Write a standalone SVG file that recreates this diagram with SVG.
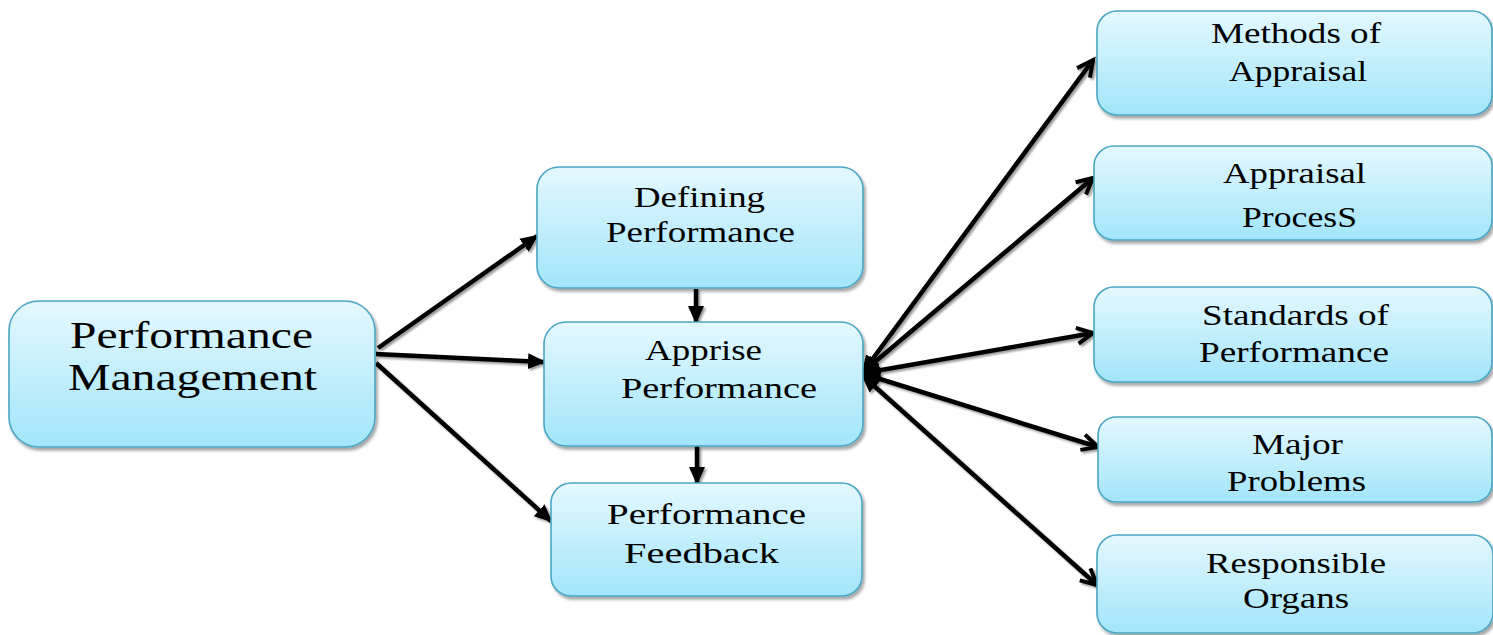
<svg xmlns="http://www.w3.org/2000/svg" width="1493" height="635" viewBox="0 0 1493 635">
<style>
.box{fill:url(#g);stroke:#4aa6c4;stroke-width:1.6;filter:url(#bs)}
.t{font-family:"Liberation Serif","Times New Roman",serif;fill:#000;font-size:29px}
.big{font-size:38px}
.c{fill:none;stroke:#000;stroke-width:4.5;stroke-linecap:butt}
</style>
<defs>
<linearGradient id="g" x1="0" y1="0" x2="0" y2="1">
<stop offset="0" stop-color="#e4f8fe"/>
<stop offset="1" stop-color="#a2e5fa"/>
</linearGradient>
<filter id="bs" x="-10%" y="-10%" width="125%" height="130%">
<feDropShadow dx="2" dy="3" stdDeviation="1.5" flood-color="#000" flood-opacity="0.35"/>
</filter>
<filter id="ls" x="-10%" y="-10%" width="120%" height="120%">
<feDropShadow dx="2" dy="2" stdDeviation="1" flood-color="#000" flood-opacity="0.4"/>
</filter>
<marker id="fa" markerUnits="userSpaceOnUse" markerWidth="20" markerHeight="18" refX="16" refY="8" orient="auto-start-reverse" viewBox="0 0 20 16">
<path d="M0,0 L18,8 L0,16 z" fill="#000"/>
</marker>
<marker id="oa" markerUnits="userSpaceOnUse" markerWidth="24" markerHeight="24" refX="18" refY="10" orient="auto" viewBox="0 0 24 20">
<path d="M2,2 L18,10 L2,18" fill="none" stroke="#000" stroke-width="4" stroke-linejoin="miter"/>
</marker>
</defs>
<g id="connectors" filter="url(#ls)">
<line class="c" x1="378" y1="348" x2="537" y2="236" marker-end="url(#fa)"/>
<line class="c" x1="376" y1="354" x2="544" y2="362" marker-end="url(#fa)"/>
<line class="c" x1="376" y1="363" x2="551" y2="521" marker-end="url(#fa)"/>
<line class="c" x1="696" y1="289" x2="696" y2="322" marker-end="url(#fa)"/>
<line class="c" x1="697" y1="446" x2="697" y2="483" marker-end="url(#fa)"/>
<line class="c" x1="863" y1="372" x2="1093" y2="60" marker-start="url(#fa)" marker-end="url(#oa)"/>
<line class="c" x1="863" y1="372" x2="1093" y2="178" marker-start="url(#fa)" marker-end="url(#oa)"/>
<line class="c" x1="864" y1="373" x2="1093" y2="333" marker-start="url(#fa)" marker-end="url(#oa)"/>
<line class="c" x1="864" y1="374" x2="1098" y2="447" marker-start="url(#fa)" marker-end="url(#oa)"/>
<line class="c" x1="863" y1="376" x2="1097" y2="585" marker-start="url(#fa)" marker-end="url(#oa)"/>
</g>
<g id="pm">
<rect class="box" x="9" y="301" width="366" height="146" rx="30"/>
<text class="t big" x="70" y="348" textLength="243" lengthAdjust="spacingAndGlyphs">Performance</text>
<text class="t big" x="68" y="390" textLength="249" lengthAdjust="spacingAndGlyphs">Management</text>
</g>
<g id="defining">
<rect class="box" x="537" y="167" width="326" height="121" rx="22"/>
<text class="t" x="634" y="207" textLength="131" lengthAdjust="spacingAndGlyphs">Defining</text>
<text class="t" x="606" y="242" textLength="189" lengthAdjust="spacingAndGlyphs">Performance</text>
</g>
<g id="apprise">
<rect class="box" x="544" y="322" width="319" height="124" rx="22"/>
<text class="t" x="645" y="360" textLength="117" lengthAdjust="spacingAndGlyphs">Apprise</text>
<text class="t" x="621" y="398" textLength="196" lengthAdjust="spacingAndGlyphs">Performance</text>
</g>
<g id="feedback">
<rect class="box" x="551" y="483" width="311" height="113" rx="20"/>
<text class="t" x="607" y="524" textLength="199" lengthAdjust="spacingAndGlyphs">Performance</text>
<text class="t" x="624" y="563" textLength="155" lengthAdjust="spacingAndGlyphs">Feedback</text>
</g>
<g id="methods">
<rect class="box" x="1097" y="11" width="395" height="104" rx="20"/>
<text class="t" x="1211" y="43" textLength="170" lengthAdjust="spacingAndGlyphs">Methods of</text>
<text class="t" x="1229" y="81" textLength="138" lengthAdjust="spacingAndGlyphs">Appraisal</text>
</g>
<g id="process">
<rect class="box" x="1094" y="146" width="398" height="94" rx="20"/>
<text class="t" x="1223" y="183" textLength="143" lengthAdjust="spacingAndGlyphs">Appraisal</text>
<text class="t" x="1242" y="227" textLength="115" lengthAdjust="spacingAndGlyphs">ProcesS</text>
</g>
<g id="standards">
<rect class="box" x="1094" y="287" width="398" height="95" rx="20"/>
<text class="t" x="1202" y="325" textLength="187" lengthAdjust="spacingAndGlyphs">Standards of</text>
<text class="t" x="1199" y="362" textLength="190" lengthAdjust="spacingAndGlyphs">Performance</text>
</g>
<g id="problems">
<rect class="box" x="1098" y="417" width="394" height="85" rx="18"/>
<text class="t" x="1252" y="454" textLength="91" lengthAdjust="spacingAndGlyphs">Major</text>
<text class="t" x="1227" y="491" textLength="139" lengthAdjust="spacingAndGlyphs">Problems</text>
</g>
<g id="organs">
<rect class="box" x="1097" y="535" width="396" height="98" rx="20"/>
<text class="t" x="1206" y="573" textLength="180" lengthAdjust="spacingAndGlyphs">Responsible</text>
<text class="t" x="1243" y="608" textLength="106" lengthAdjust="spacingAndGlyphs">Organs</text>
</g>
</svg>
